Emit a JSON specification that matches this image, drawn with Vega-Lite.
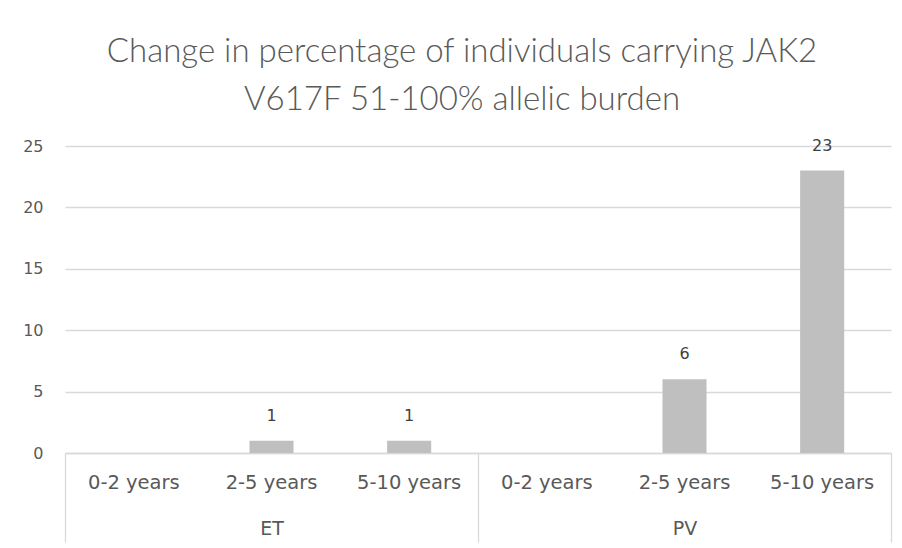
{
  "$schema": "https://vega.github.io/schema/vega-lite/v6.json",
  "autosize": {"type": "none"},
  "padding": {"left": 65, "top": 146, "right": 11, "bottom": 95},
  "width": 826,
  "height": 307,
  "background": "white",
  "title": {
    "text": ["Change in percentage of individuals carrying JAK2", "V617F 51-100% allelic burden"],
    "font": "Lato",
    "fontWeight": 300,
    "fontSize": 33,
    "color": "#595959",
    "lineHeight": 48,
    "anchor": "middle",
    "frame": "group",
    "dx": -16,
    "offset": 21
  },
  "data": {
    "values": [
      {"group": "ET", "period": "0-2 years", "value": 0},
      {"group": "ET", "period": "2-5 years", "value": 1},
      {"group": "ET", "period": "5-10 years", "value": 1},
      {"group": "PV", "period": "0-2 years", "value": 0},
      {"group": "PV", "period": "2-5 years", "value": 6},
      {"group": "PV", "period": "5-10 years", "value": 23}
    ]
  },
  "transform": [{"calculate": "datum.group + '|' + datum.period", "as": "key"}],
  "config": {
    "view": {"stroke": null},
    "axis": {"labelFont": "DejaVu Sans", "labelColor": "#595959", "labelFontSize": 16}
  },
  "layer": [
    {
      "encoding": {
        "x": {
          "field": "key", "type": "nominal", "sort": null,
          "scale": {"paddingInner": 0.68, "paddingOuter": 0.34},
          "axis": {
            "title": null, "orient": "bottom", "ticks": false, "labelAngle": 0,
            "domainColor": "#d9d9d9", "domainWidth": 1.3,
            "labelExpr": "split(datum.label, '|')[1]",
            "labelPadding": 20, "labelFontSize": 19.5
          }
        },
        "y": {
          "field": "value", "type": "quantitative",
          "scale": {"domain": [0, 25], "nice": false},
          "axis": {
            "title": null, "domain": false, "ticks": false, "values": [0, 5, 10, 15, 20, 25],
            "gridColor": "#d9d9d9", "gridWidth": 1.3, "labelPadding": 22, "labelFontSize": 16
          }
        }
      },
      "layer": [
        {"mark": {"type": "bar", "color": "#bfbfbf"}},
        {
          "transform": [{"filter": "datum.value > 0"}],
          "mark": {"type": "text", "dy": -25, "font": "DejaVu Sans", "fontSize": 16, "color": "#404040"},
          "encoding": {"text": {"field": "value", "type": "quantitative"}}
        }
      ]
    },
    {
      "mark": {"type": "text", "text": ""},
      "encoding": {
        "x": {
          "field": "group", "type": "nominal", "sort": null,
          "scale": {"paddingInner": 0, "paddingOuter": 0},
          "axis": {
            "title": null, "orient": "bottom", "domain": false, "labelAngle": 0,
            "tickBand": "extent", "tickSize": 89, "tickColor": "#d9d9d9", "tickWidth": 1.3,
            "labelPadding": -23, "labelFontSize": 19
          }
        }
      }
    }
  ],
  "resolve": {"scale": {"x": "independent"}, "axis": {"x": "independent"}}
}
